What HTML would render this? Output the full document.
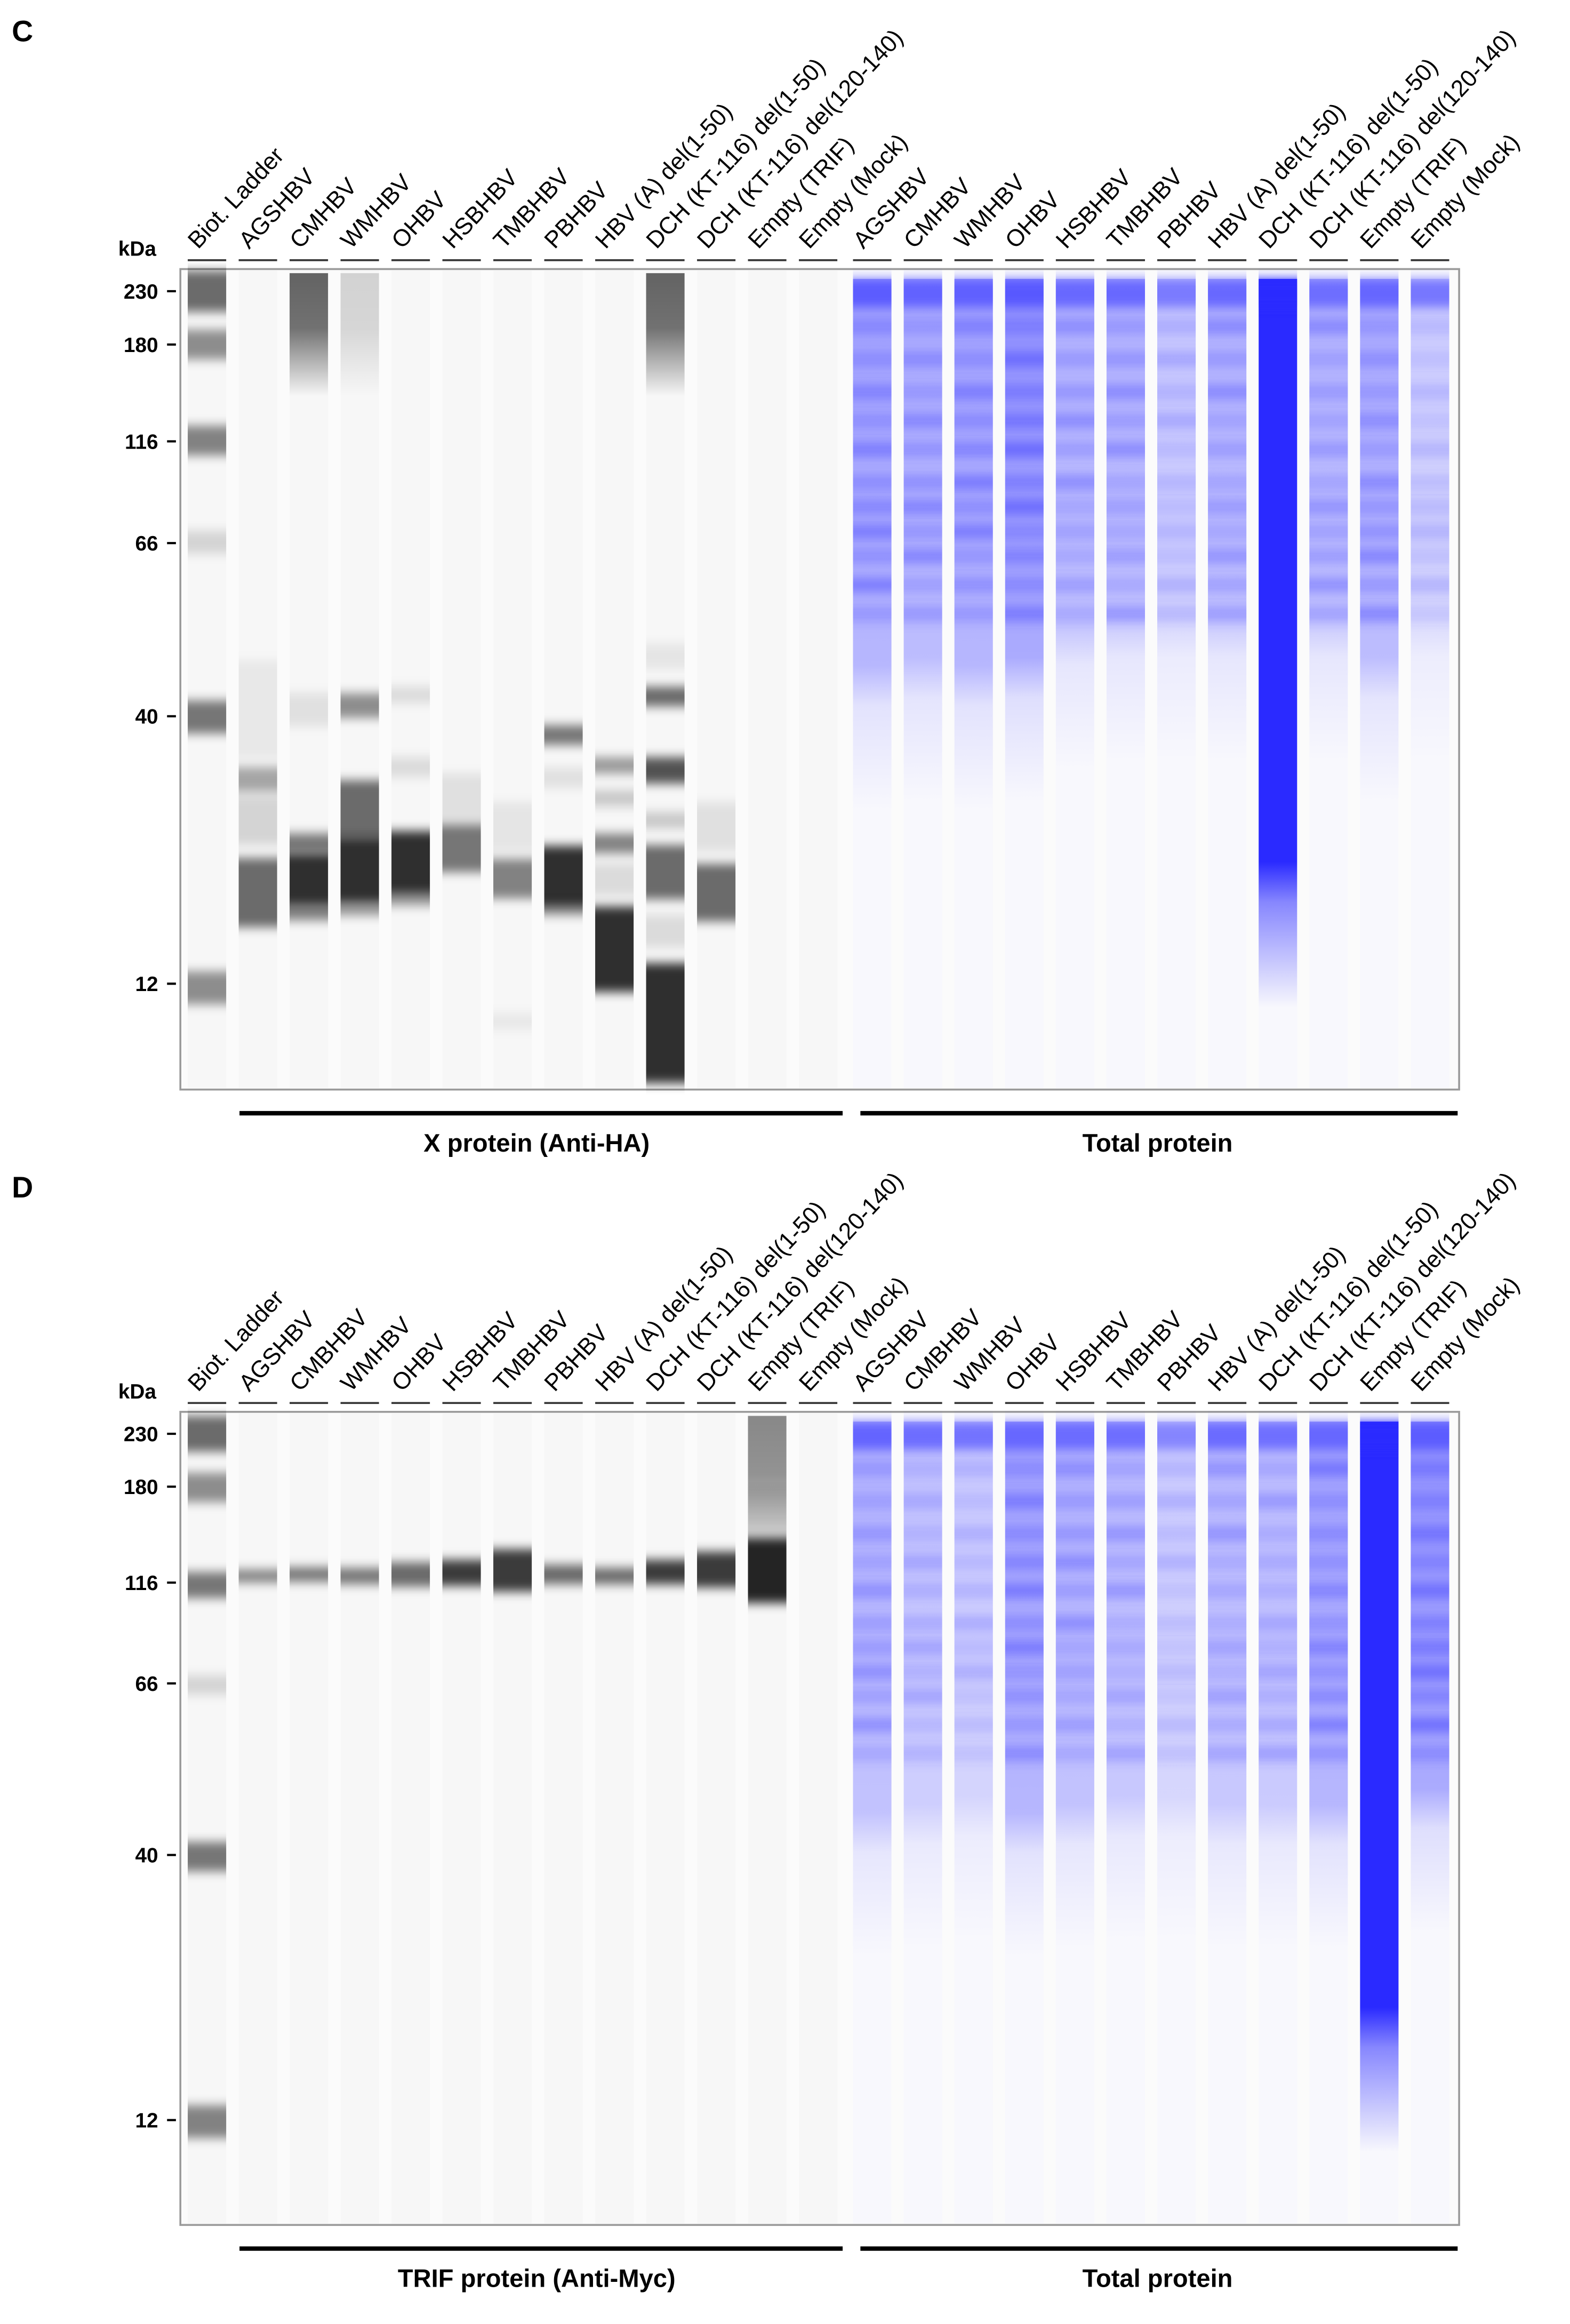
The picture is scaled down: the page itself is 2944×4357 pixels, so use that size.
<!DOCTYPE html>
<html><head><meta charset="utf-8"><title>Western blot panels C and D</title>
<style>html,body{margin:0;padding:0;background:#fff}svg{display:block}</style></head>
<body>
<svg id="fig" xmlns="http://www.w3.org/2000/svg" width="2944" height="4357" viewBox="0 0 1062 1572" preserveAspectRatio="none" font-family="'Liberation Sans', sans-serif">
<defs>
<filter id="bl" x="-10%" y="-300%" width="120%" height="700%"><feGaussianBlur stdDeviation="0 3.5"/></filter>
<linearGradient id="fadeDown" x1="0" y1="0" x2="0" y2="1">
<stop offset="0" stop-color="#000" stop-opacity="1"/><stop offset="0.45" stop-color="#000" stop-opacity="0.9"/><stop offset="1" stop-color="#000" stop-opacity="0"/>
</linearGradient>
</defs>
</svg>
<script>
// ---- data ----
const tickLabels = ["230","180","116","66","40","12"];
const tickRM = [0.027,0.092,0.210,0.334,0.545,0.871];
const labelsC = ["Biot. Ladder","AGSHBV","CMHBV","WMHBV","OHBV","HSBHBV","TMBHBV","PBHBV","HBV (A) del(1-50)","DCH (KT-116) del(1-50)","DCH (KT-116) del(120-140)","Empty (TRIF)","Empty (Mock)"];
const labelsCT = ["AGSHBV","CMHBV","WMHBV","OHBV","HSBHBV","TMBHBV","PBHBV","HBV (A) del(1-50)","DCH (KT-116) del(1-50)","DCH (KT-116) del(120-140)","Empty (TRIF)","Empty (Mock)"];
const labelsD = ["Biot. Ladder","AGSHBV","CMBHBV","WMHBV","OHBV","HSBHBV","TMBHBV","PBHBV","HBV (A) del(1-50)","DCH (KT-116) del(1-50)","DCH (KT-116) del(120-140)","Empty (TRIF)","Empty (Mock)"];
const labelsDT = ["AGSHBV","CMBHBV","WMHBV","OHBV","HSBHBV","TMBHBV","PBHBV","HBV (A) del(1-50)","DCH (KT-116) del(1-50)","DCH (KT-116) del(120-140)","Empty (TRIF)","Empty (Mock)"];
// bands: [relative migration centre, half height, intensity, fade?]
const bandsC = [
 [[.027,.025,.6],[.092,.018,.45],[.209,.018,.5],[.333,.014,.15],[.546,.02,.55],[.876,.02,.45]],
 [[.537,.06,.06],[.622,.015,.35],[.672,.03,.15],[.760,.042,.6]],
 [[.0,.075,.6,1],[.537,.02,.1],[.70,.012,.55],[.744,.032,.85],[.784,.01,.5]],
 [[.0,.075,.15,1],[.532,.015,.45],[.66,.037,.6],[.733,.04,.85],[.78,.008,.4]],
 [[.519,.01,.12],[.607,.012,.12],[.723,.038,.85],[.766,.01,.4]],
 [[.645,.03,.1],[.706,.029,.55]],
 [[.68,.03,.08],[.743,.024,.5],[.917,.01,.06]],
 [[.568,.012,.55],[.62,.012,.1],[.740,.037,.85],[.78,.008,.4]],
 [[.605,.01,.4],[.645,.01,.2],[.70,.012,.5],[.744,.02,.12],[.829,.052,.85]],
 [[.0,.075,.6,1],[.472,.015,.08],[.521,.012,.6],[.611,.016,.7],[.672,.01,.2],[.735,.033,.6],[.807,.02,.12],[.919,.073,.85]],
 [[.68,.03,.1],[.760,.035,.6]],
 [],[]
];
const bandsD = [
 [[.027,.022,.6],[.093,.018,.45],[.213,.016,.55],[.336,.012,.15],[.547,.018,.55],[.873,.02,.5]],
 [[.202,.008,.5]],[[.200,.009,.55]],[[.202,.01,.55]],[[.200,.015,.6]],[[.198,.016,.8]],
 [[.195,.026,.8]],[[.200,.012,.6]],[[.202,.01,.6]],[[.197,.015,.8]],[[.194,.022,.8]],
 [[.0,.08,.45,1],[.12,.03,.12],[.195,.04,.9]],[]
];
// total protein lanes: smear strength, smear end (rm), top band strength
const totBaseC = [.55,.5,.55,.65,.45,.45,.32,.45,1,.45,.5,.28];
const totEndC = [.5,.49,.5,.49,.45,.44,.44,.44,.74,.44,.49,.44];
const totTopC = [.8,.75,.75,.8,.7,.7,.6,.7,1,.65,.7,.65];
const totBaseD = [.45,.35,.3,.55,.45,.4,.28,.4,.38,.55,1,.65];
const totEndD = [.51,.5,.49,.51,.5,.49,.49,.5,.5,.5,.75,.48];
const totTopD = [.75,.7,.68,.68,.68,.68,.55,.7,.68,.68,1,.75];
const stripeRM = [.07,.11,.15,.185,.22,.26,.29,.32,.35,.385,.42];
const stripeStr = [.3,.25,.35,.25,.4,.3,.35,.45,.3,.45,.25];

// ---- drawing ----
const NS="http://www.w3.org/2000/svg";
const svg=document.getElementById('fig');
function mk(tag,attrs,parent){const e=document.createElementNS(NS,tag);for(const k in attrs)e.setAttribute(k,attrs[k]);(parent||svg).appendChild(e);return e;}
const laneX=i=>140+34.45*i;
const totX=j=>590+34.3*j;
const LW=26;

function panel(P){
  const y=rm=>P.top+rm*P.h;
  const g=mk('g',{});
  
  
  const lt=mk('text',{x:8,y:P.letterY,'font-size':20,'font-weight':'bold'},g);lt.textContent=P.letter;
  
  
  mk('rect',{x:122,y:P.top,width:865,height:P.h,fill:'#fbfbfb',stroke:'#9a9a9a','stroke-width':1.3},g);
  for(let i=0;i<13;i++){const r=mk('rect',{x:laneX(i)-LW/2,y:P.top+1,width:LW,height:P.h-2,fill:'#f7f7f7'},g);
    
    }
  for(let j=0;j<12;j++){mk('rect',{x:totX(j)-LW/2,y:P.top+1,width:LW,height:P.h-2,fill:'#f8f8fd'},g);}
  const kd=mk('text',{x:80,y:P.top-9,'font-size':14,'font-weight':'bold'},g);kd.textContent='kDa';
  
  
  tickLabels.forEach((t,k)=>{
    const tx=mk('text',{x:107,y:y(tickRM[k])+5,'font-size':14,'font-weight':'bold','text-anchor':'end'},g);tx.textContent=t;
    
    
    mk('line',{x1:113,x2:119,y1:y(tickRM[k]),y2:y(tickRM[k]),stroke:'#000','stroke-width':1.5},g);
  });
  P.bands.forEach((lane,i)=>lane.forEach(b=>{
    let r;
    if(b[3]){
      r=mk('rect',{x:laneX(i)-LW/2,y:y(0.005),width:LW,height:b[1]*2*P.h,fill:'url(#fadeDown)','fill-opacity':b[2]},g);
    } else {
      r=mk('rect',{x:laneX(i)-LW/2,y:y(b[0]-b[1]),width:LW,height:b[1]*2*P.h,fill:'#000','fill-opacity':b[2]*0.95,filter:'url(#bl)'},g);
    }
    
    
  }));
  for(let j=0;j<12;j++){
    const id=P.name+'g'+j, base=P.tb[j], end=P.te[j];
    const lg=mk('linearGradient',{id:id,x1:0,y1:0,x2:0,y2:1},svg.querySelector('defs'));
    const sat=base>=1;
    const col=sat?'#2a2aff':'#5a5aff';
    const a=sat?1:base;
    mk('stop',{offset:0,'stop-color':col,'stop-opacity':a},lg);
    mk('stop',{offset:(end-0.02)/(end+0.16),'stop-color':col,'stop-opacity':a*(sat?1:0.75)},lg);
    mk('stop',{offset:(end+0.03)/(end+0.16),'stop-color':col,'stop-opacity':sat?0.55:a*0.25},lg);
    mk('stop',{offset:1,'stop-color':col,'stop-opacity':0},lg);
    const sm=mk('rect',{x:totX(j)-LW/2,y:y(0.012),width:LW,height:(end+0.16-0.012)*P.h,fill:'url(#'+id+')'},g);
    
    
    const tp=mk('rect',{x:totX(j)-LW/2,y:y(0.012),width:LW,height:0.035*P.h,fill:sat?'#2a2aff':'#4a4aff','fill-opacity':P.tt[j],filter:'url(#bl)'},g);
    
    
    if(!sat) stripeRM.forEach((s,k)=>{
      if(s>end) return;
      const st=mk('rect',{x:totX(j)-LW/2,y:y(s-0.01),width:LW,height:0.02*P.h,fill:'#4040ff','fill-opacity':Math.min(1,stripeStr[(k+j)%stripeStr.length]*base*1.8),filter:'url(#bl)'},g);
      
      
    });
  }
  const labs=P.labels.concat(P.tlabels);
  labs.forEach((t,k)=>{
    const cx=k<13?laneX(k):totX(k-13);
    mk('line',{x1:cx-13,x2:cx+13,y1:P.top-6,y2:P.top-6,stroke:'#333','stroke-width':1.3},g);
    const tx=mk('text',{x:0,y:0,'font-size':16,transform:`translate(${cx-6},${P.top-13}) rotate(-47)`},g);
    tx.textContent=t;
    
    
  });
  const by=P.top+P.h+16;
  mk('line',{x1:162,x2:570,y1:by,y2:by,stroke:'#000','stroke-width':3},g);
  mk('line',{x1:582,x2:986,y1:by,y2:by,stroke:'#000','stroke-width':3},g);
  const t1=mk('text',{x:363,y:by+26,'font-size':17,'font-weight':'bold','text-anchor':'middle'},g);t1.textContent=P.title;
  
  
  const t2=mk('text',{x:783,y:by+26,'font-size':17,'font-weight':'bold','text-anchor':'middle'},g);t2.textContent='Total protein';
  
  
}
panel({name:'panel-c',letter:'C',letterY:28,top:182,h:555,bands:bandsC,labels:labelsC,tlabels:labelsCT,tb:totBaseC,te:totEndC,tt:totTopC,title:'X protein (Anti-HA)'});
panel({name:'panel-d',letter:'D',letterY:810,top:955,h:550,bands:bandsD,labels:labelsD,tlabels:labelsDT,tb:totBaseD,te:totEndD,tt:totTopD,title:'TRIF protein (Anti-Myc)'});
</script>
</body></html>
